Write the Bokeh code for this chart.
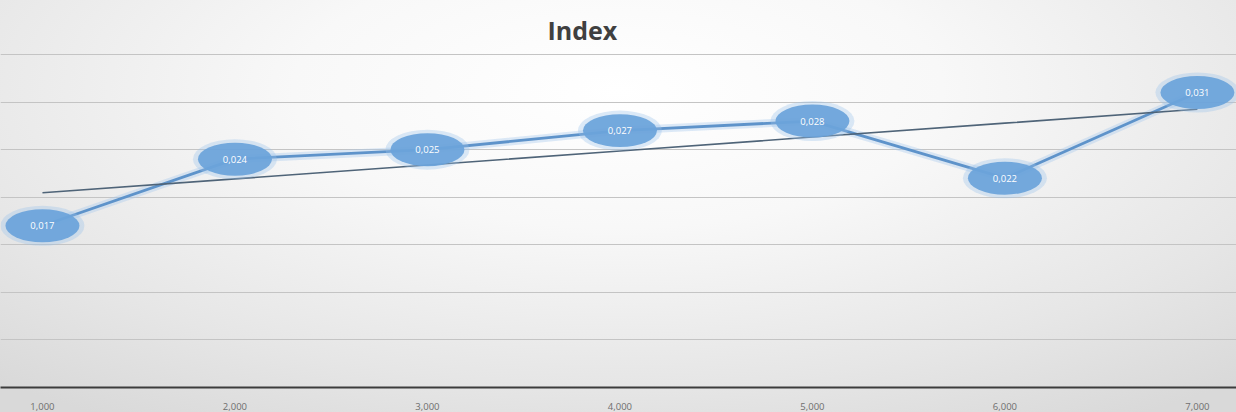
import numpy as np
from bokeh.plotting import figure
from bokeh.models import ColumnDataSource, FixedTicker, NumeralTickFormatter, Range1d
from bokeh.core.properties import value
from bokeh.embed import file_html
from bokeh.resources import INLINE

# --- data ---
x_values = [1000, 2000, 3000, 4000, 5000, 6000, 7000]
index_values = [0.017, 0.024, 0.025, 0.027, 0.028, 0.022, 0.031]
x_ticks = [1000, 2000, 3000, 4000, 5000, 6000, 7000]
y_grid = [0.005, 0.010, 0.015, 0.020, 0.025, 0.030, 0.035]
title_text = "Index"

labels = [f"{v:.3f}".replace(".", ",") for v in index_values]

# linear trend line computed from the series
coef = np.polyfit(x_values, index_values, 1)
trend_y = [float(np.polyval(coef, xv)) for xv in x_values]

src = ColumnDataSource(dict(x=x_values, y=index_values, lab=labels))
trend_src = ColumnDataSource(dict(x=x_values, y=trend_y))

p = figure(width=1236, height=412, output_backend="svg", toolbar_location=None,
           x_range=Range1d(782, 7203), y_range=Range1d(0, 0.03521),
           min_border_left=0, min_border_right=0, min_border_top=52, min_border_bottom=23)

p.background_fill_alpha = 0
p.border_fill_alpha = 0
p.outline_line_color = None
p.styles = {"background": "radial-gradient(ellipse 75% 95% at 50% 22%, #ffffff 0%, #f8f8f8 35%, #e6e6e6 75%, #d9d9d9 100%)"}

p.title.text = title_text
p.title.align = "left"
p.title.offset = 547
p.title.text_font = "Open Sans"
p.title.text_font_size = "25px"
p.title.text_font_style = "bold"
p.title.text_color = "#404040"
p.title.standoff = 12

p.yaxis.visible = False
p.xgrid.visible = False
p.ygrid.ticker = FixedTicker(ticks=y_grid)
p.ygrid.grid_line_color = "#c4c4c4"
p.ygrid.grid_line_width = 1.2

p.xaxis.ticker = FixedTicker(ticks=x_ticks)
p.xaxis.formatter = NumeralTickFormatter(format="0,000")
p.xaxis.axis_line_color = "#3c3c3c"
p.xaxis.axis_line_width = 2
p.xaxis.major_tick_line_color = None
p.xaxis.minor_tick_line_color = None
p.xaxis.major_label_text_font = "Open Sans"
p.xaxis.major_label_text_font_size = "9.5px"
p.xaxis.major_label_text_color = "#6e6e6e"
p.xaxis.major_label_standoff = 9

# series line with soft glow
p.line("x", "y", source=src, line_color="#a9cbee", line_width=8, line_alpha=0.4)
p.line("x", "y", source=src, line_color="#5e93ca", line_width=2.8)

# trend line
p.line("x", "y", source=trend_src, line_color="#4f6478", line_width=1.6)

# ellipse data labels
p.ellipse("x", "y", source=src, width=84, height=40, width_units="screen", height_units="screen",
          fill_color="#9cc4ec", fill_alpha=0.35, line_color=None)
p.ellipse("x", "y", source=src, width=74, height=33, width_units="screen", height_units="screen",
          fill_color="#6aa3da", fill_alpha=0.92, line_color=None)
p.text("x", "y", text="lab", source=src, text_color="white", text_font=value("Open Sans"),
       text_font_size="9.5px", text_align="center", text_baseline="middle")

open("out.html", "w").write(file_html(p, INLINE))
